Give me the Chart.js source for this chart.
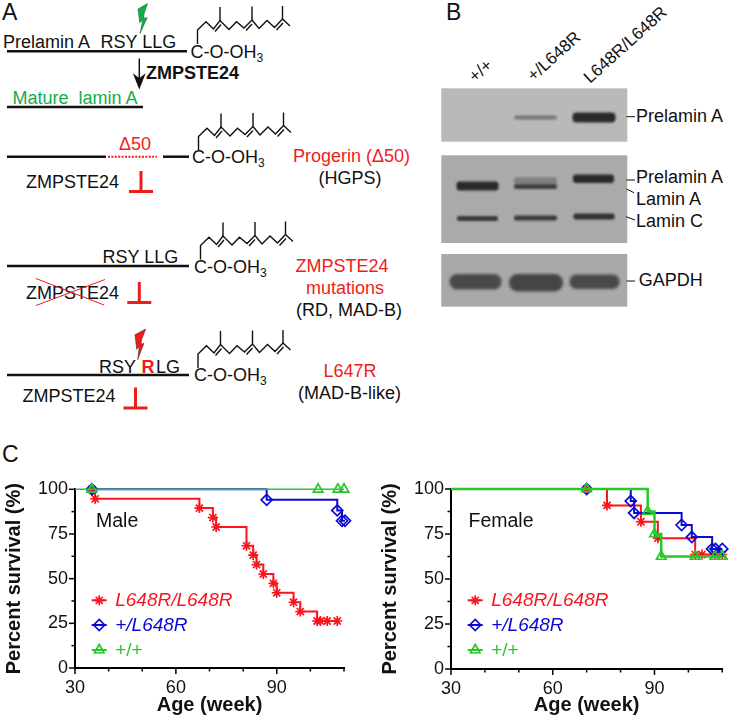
<!DOCTYPE html>
<html>
<head>
<meta charset="utf-8">
<title>Prelamin A survival</title>
<script src="https://cdn.jsdelivr.net/npm/chart.js@4/dist/chart.umd.js"></script>
<style>
  html, body { margin: 0; padding: 0; background: #fff; }
  #page { position: relative; width: 731px; height: 717px; overflow: hidden; font-family: "Liberation Sans", Arial, sans-serif; }
  #page svg { position: absolute; left: 0; top: 0; }
  #page canvas { position: absolute; top: 460px; }
  #maleChart { left: 0; }
  #femaleChart { left: 365px; }
  svg text { font-family: "Liberation Sans", Arial, sans-serif; font-size: 18px; fill: #111; }
  svg .red { fill: #f01c1c; }
  svg .mid { text-anchor: middle; }
  svg .panel { font-size: 23px; }
</style>
</head>
<body>
<div id="page">
<svg id="schema" width="731" height="717" xmlns="http://www.w3.org/2000/svg">
  <defs>
    <filter id="soft" x="-20%" y="-60%" width="140%" height="220%"><feGaussianBlur stdDeviation="1"/></filter>
    <filter id="softer" x="-20%" y="-60%" width="140%" height="220%"><feGaussianBlur stdDeviation="1.6"/></filter>
    <g id="chain" fill="none" stroke="#111" stroke-width="1.4">
      <path d="M197.5 44V30L206 21.7L213.5 29L220 20.5L229 29.5L236.5 21.7L244 28L252 20L259 28.5L267 20.5L274.5 27.5L282.5 19L290 26"/>
      <path d="M220 20.5V7M252 20V6.5M282.5 19V6"/>
      <path d="M215 31.5L221 24.5M246 30.5L252 24M276.5 30L283 23"/>
    </g>
    <g id="esterText"><text x="0" y="0">C-O-OH<tspan dy="4" font-size="12">3</tspan></text></g>
    <path id="block" d="M0 0V21M-12 20.5H12" fill="none" stroke="#f01c1c" stroke-width="3"/>
  </defs>

  <!-- panel A -->
  <text class="panel" x="2" y="20">A</text>
  <text x="3" y="47.5">Prelamin A</text>
  <text x="100.5" y="47.5">RSY LLG</text>
  <line x1="7" y1="51.3" x2="187" y2="51.3" stroke="#111" stroke-width="2.5"/>
  <use href="#esterText" x="190.5" y="58"/>
  <use href="#chain"/>
  <path d="M147.5 3.5L138 9L139.7 22.7L142.7 20L140 33.5L147.3 17.5L144 18.5L144 14Z" fill="#12ad4b" stroke="#0d5e2c" stroke-width=".5"/>
  <path d="M139.3 58.5V84M139.3 87.5L134.5 75.5L139.3 79L144 75.5Z" fill="#111" stroke="#111" stroke-width="1.5"/>
  <text x="146" y="78.7" style="font-weight:bold">ZMPSTE24</text>
  <text x="12.5" y="104" xml:space="preserve" style="fill:#12ad4b">Mature  lamin A</text>
  <line x1="7" y1="107" x2="143" y2="107" stroke="#111" stroke-width="2.5"/>

  <use href="#chain" x="1" y="106.5"/>
  <line x1="7" y1="156.7" x2="106" y2="156.7" stroke="#111" stroke-width="2.5"/>
  <line x1="108" y1="156.7" x2="157" y2="156.7" stroke="#f01c1c" stroke-width="2" stroke-dasharray="2 1.4"/>
  <line x1="163" y1="156.7" x2="189" y2="156.7" stroke="#111" stroke-width="2.5"/>
  <text class="red" x="119" y="150">Δ50</text>
  <use href="#esterText" x="192" y="162.7"/>
  <text x="26" y="188">ZMPSTE24</text>
  <use href="#block" x="141" y="171"/>
  <text class="red" x="293" y="161.7">Progerin (Δ50)</text>
  <text class="mid" x="350" y="184">(HGPS)</text>

  <use href="#chain" x="3" y="215.5"/>
  <line x1="7" y1="266" x2="189" y2="266" stroke="#111" stroke-width="2.5"/>
  <text x="102.5" y="262.7">RSY LLG</text>
  <use href="#esterText" x="194" y="272.7"/>
  <text x="26" y="298.7">ZMPSTE24</text>
  <path d="M36 278.5L104 305M36 305.5L105 279.5" stroke="#f01c1c" stroke-width="1" fill="none"/>
  <use href="#block" x="139.3" y="282"/>
  <text class="red mid" x="342" y="271.7">ZMPSTE24</text>
  <text class="red mid" x="345" y="294">mutations</text>
  <text class="mid" x="349" y="316">(RD, MAD-B)</text>

  <use href="#chain" x="0.5" y="324"/>
  <line x1="7" y1="375" x2="189" y2="375" stroke="#111" stroke-width="2.5"/>
  <text x="99" y="372.7">RSY</text>
  <text class="red" x="141.5" y="372.7" style="font-weight:bold">R</text>
  <text x="156" y="372.7">LG</text>
  <use href="#esterText" x="194" y="380.7"/>
  <path d="M145.7 329L135 334.7L136.7 349.3L139.3 346.7L137.7 359.5L144 343.3L141.3 344.3L141.3 340.5Z" fill="#f01c1c" stroke="#222" stroke-width=".5"/>
  <text x="22.5" y="401.7">ZMPSTE24</text>
  <use href="#block" x="135.5" y="387.5"/>
  <text class="red mid" x="350" y="376.7">L647R</text>
  <text class="mid" x="349.5" y="399">(MAD-B-like)</text>

  <text class="panel" x="2" y="461.5">C</text>

  <!-- panel B -->
  <text class="panel" x="446" y="20">B</text>
  <text x="0" y="0" style="font-size:17px" transform="translate(475,83) rotate(-42)">+/+</text>
  <text x="0" y="0" style="font-size:17px" transform="translate(533.5,82) rotate(-42)">+/L648R</text>
  <text x="0" y="0" style="font-size:17px" transform="translate(590,84) rotate(-42)">L648R/L648R</text>

  <rect x="441.3" y="88.3" width="186" height="53.4" fill="#b9b9b9"/>
  <rect x="441.3" y="155.3" width="186" height="87.7" fill="#aaaaaa"/>
  <rect x="441.3" y="254" width="186" height="52.7" fill="#a9a9a9"/>

  <g filter="url(#soft)">
    <rect x="514" y="115.5" width="43" height="4" rx="2" fill="#777"/>
    <rect x="572.5" y="112.5" width="43" height="10" rx="4" fill="#2b2b2b"/>
    <rect x="456.5" y="181.5" width="42" height="9" rx="3" fill="#2a2a2a"/>
    <rect x="514" y="177.5" width="43" height="6.5" rx="2" fill="#808080"/>
    <rect x="514" y="184" width="43" height="5" rx="2" fill="#3c3c3c"/>
    <rect x="573" y="174.5" width="41" height="8.5" rx="3" fill="#2a2a2a"/>
    <rect x="457" y="216" width="41" height="5" rx="2" fill="#3a3a3a"/>
    <rect x="514" y="215.5" width="43" height="5" rx="2" fill="#3a3a3a"/>
    <rect x="573.5" y="213.5" width="41" height="6" rx="2" fill="#333"/>
  </g>
  <g filter="url(#softer)">
    <rect x="449.5" y="274" width="52" height="15.5" rx="7.5" fill="#4a4a4a"/>
    <rect x="509" y="274" width="54" height="17.5" rx="8.5" fill="#444"/>
    <rect x="569.5" y="274.5" width="50" height="14.5" rx="7" fill="#4a4a4a"/>
  </g>

  <path d="M626.5 116.7H635M626.5 180H635M626.5 189L634 192.7M626 216.7L635 220M626.5 281H635" stroke="#111" stroke-width="1" fill="none"/>
  <text x="636" y="121.7">Prelamin A</text>
  <text x="636" y="183.3">Prelamin A</text>
  <text x="636" y="205">Lamin A</text>
  <text x="636" y="226.7">Lamin C</text>
  <text x="638.7" y="285.7">GAPDH</text>
</svg>
<canvas id="maleChart" width="365" height="257"></canvas>
<canvas id="femaleChart" width="366" height="257"></canvas>
</div>

<script>
// Tick positions shared by both survival plots
var ageTicks = [30, 60, 90];
var ageMinorTicks = [40, 50, 70, 80, 100, 110];
var survivalTicks = [0, 25, 50, 75, 100];
var survivalMinorTicks = [12.5, 37.5, 62.5, 87.5];

var seriesNames = ["L648R/L648R", "+/L648R", "+/+"];

// Male cohort, values
var maleHomAge = [35, 36, 67, 71, 72, 81, 83, 84, 86, 89, 90, 95, 97, 102, 103, 105, 108];
var maleHomSurvival = [100, 94.7, 89.5, 84.2, 78.9, 68.4, 63.2, 57.9, 52.6, 47.4, 42.1, 36.8, 31.6, 26.3, 26.3, 26.3, 26.3];
var maleHetAge = [35, 87, 108, 109.4, 110.3];
var maleHetSurvival = [100, 94.1, 88.2, 82.4, 82.4];
var maleWtAge = [30, 35, 102.3, 108.2, 110, 111.5];
var maleWtSurvival = [100, 100, 100, 100, 100, 100];

// Female cohort
var femaleHomAge = [70, 76, 86, 91, 102, 104, 107.8, 110, 111];
var femaleHomSurvival = [100, 90.9, 81.8, 72.7, 63.6, 63.6, 63.6, 63.6, 63.6];
var femaleHetAge = [70, 83, 84, 98, 101, 107, 108, 110];
var femaleHetSurvival = [100, 93.3, 86.7, 80, 73.3, 66.7, 66.7, 66.7];
var femaleWtAge = [30, 70, 88, 90, 92, 102, 107.8, 110, 111];
var femaleWtSurvival = [100, 100, 87.5, 75, 62.5, 62.5, 62.5, 62.5, 62.5];

var RED = "rgb(250,20,30)";
var BLUE = "rgb(10,10,215)";
var GREEN = "rgb(40,200,40)";
var FONT = '"Liberation Sans", Arial, sans-serif';

function toPoints(ages, values)
{
  return ages.map(function(age, i) { return { x: age, y: values[i] }; });
}

// Curve ends on the axis or past the last animal carry no marker
function markerRadius(size)
{
  return function(ctx)
  {
    var x = ctx.parsed.x;
    return (x < 35 || x > 110.5) ? 0 : size;
  };
}

function curve(points, color, style, size, width, order)
{
  return {
    data: points,
    stepped: true,
    clip: false,
    order: order,
    borderColor: color,
    borderWidth: width,
    pointStyle: style,
    pointRadius: markerRadius(size),
    pointBorderColor: color,
    pointBackgroundColor: "transparent",
    pointBorderWidth: 1.7
  };
}

// Small and large ticks plus the sample legend and the cohort label
var panelDecor =
{
  id: "panelDecor",
  afterDraw: function(chart, args, opts)
  {
    var c = chart.ctx, xs = chart.scales.x, ys = chart.scales.y;
    var bottom = chart.chartArea.bottom, left = chart.chartArea.left;
    c.save();
    c.strokeStyle = "#000";
    c.lineWidth = 1.5;
    function tick(x1, y1, x2, y2) { c.beginPath(); c.moveTo(x1, y1); c.lineTo(x2, y2); c.stroke(); }
    ageTicks.forEach(function(v) { var p = xs.getPixelForValue(v); tick(p, bottom, p, bottom + 6); });
    ageMinorTicks.forEach(function(v) { var p = xs.getPixelForValue(v); tick(p, bottom, p, bottom + 3.5); });
    survivalTicks.forEach(function(v) { var p = ys.getPixelForValue(v); tick(left, p, left - 6, p); });
    survivalMinorTicks.forEach(function(v) { var p = ys.getPixelForValue(v); tick(left, p, left - 3.5, p); });

    c.textBaseline = "alphabetic";
    c.fillStyle = "#111";
    c.font = "19.5px " + FONT;
    c.fillText(opts.label, opts.labelX, 66.5);

    var rows = [140.3, 165, 190];
    var colors = [RED, BLUE, GREEN];
    var styles = ["star", "rectRot", "triangle"];
    var sizes = [5, 5.5, 5.5];
    rows.forEach(function(y, i)
    {
      c.strokeStyle = colors[i];
      c.fillStyle = "transparent";
      c.lineWidth = 2;
      tick(opts.legendX, y, opts.legendX + 15, y);
      c.lineWidth = 1.7;
      Chart.helpers.drawPoint(c, { pointStyle: styles[i], rotation: 0, radius: sizes[i], borderWidth: 1.7 }, opts.legendX + 7.5, y);
      c.fillStyle = colors[i];
      c.font = "italic 19px " + FONT;
      if (i === 2) c.font = "19px " + FONT;
      c.fillText(seriesNames[i], opts.legendX + 23.5, y + 5.8);
    });
    c.restore();
  }
};

function makeChart(canvasId, datasets, layoutOpts, decorOpts)
{
  new Chart(document.getElementById(canvasId),
  {
    type: "line",
    data: { datasets: datasets },
    options:
    {
      responsive: false,
      animation: false,
      layout: { padding: layoutOpts },
      plugins: { legend: { display: false }, tooltip: { enabled: false }, panelDecor: decorOpts },
      scales:
      {
        x:
        {
          type: "linear",
          min: 30,
          max: 110,
          afterBuildTicks: function(s) { s.ticks = ageTicks.map(function(v) { return { value: v }; }); },
          afterFit: function(s) { s.height = layoutOpts.xHeight; },
          grid: { display: false, drawTicks: false },
          border: { display: true, color: "#000", width: 2 },
          ticks: { color: "#111", padding: 9, maxRotation: 0, autoSkip: false, font: { family: FONT, size: 18 } },
          title: { display: true, text: "Age (week)", color: "#111", padding: { top: 0, bottom: 0 }, font: { family: FONT, size: 20, weight: "bold" } }
        },
        y:
        {
          min: 0,
          max: 100,
          afterBuildTicks: function(s) { s.ticks = survivalTicks.map(function(v) { return { value: v }; }); },
          afterFit: function(s) { s.width = layoutOpts.yWidth; },
          grid: { display: false, drawTicks: false },
          border: { display: true, color: "#000", width: 2 },
          ticks: { color: "#111", padding: 7, font: { family: FONT, size: 18 } },
          title: { display: true, text: "Percent survival (%)", color: "#111", padding: { top: 2, bottom: 0 }, font: { family: FONT, size: 20, weight: "bold" } }
        }
      }
    },
    plugins: [panelDecor]
  });
}

makeChart("maleChart",
  [
    curve(toPoints(maleWtAge, maleWtSurvival), GREEN, "triangle", 5.5, 1.5, 0),
    curve(toPoints(maleHetAge, maleHetSurvival), BLUE, "rectRot", 5.5, 2, 1),
    curve(toPoints(maleHomAge, maleHomSurvival), RED, "star", 5, 2, 2)
  ],
  { left: 0, right: 21, top: 29.3, bottom: 0, xHeight: 49, yWidth: 75 },
  { label: "Male", labelX: 96, legendX: 91.7 });

makeChart("femaleChart",
  [
    curve(toPoints(femaleWtAge, femaleWtSurvival), GREEN, "triangle", 5.5, 2.5, 0),
    curve(toPoints(femaleHetAge, femaleHetSurvival), BLUE, "rectRot", 5.5, 2, 1),
    curve(toPoints(femaleHomAge, femaleHomSurvival), RED, "star", 5, 2, 2)
  ],
  { left: 11.5, right: 8.7, top: 29, bottom: 0, xHeight: 48, yWidth: 74.5 },
  { label: "Female", labelX: 103.5, legendX: 102.7 });
</script>
</body>
</html>
